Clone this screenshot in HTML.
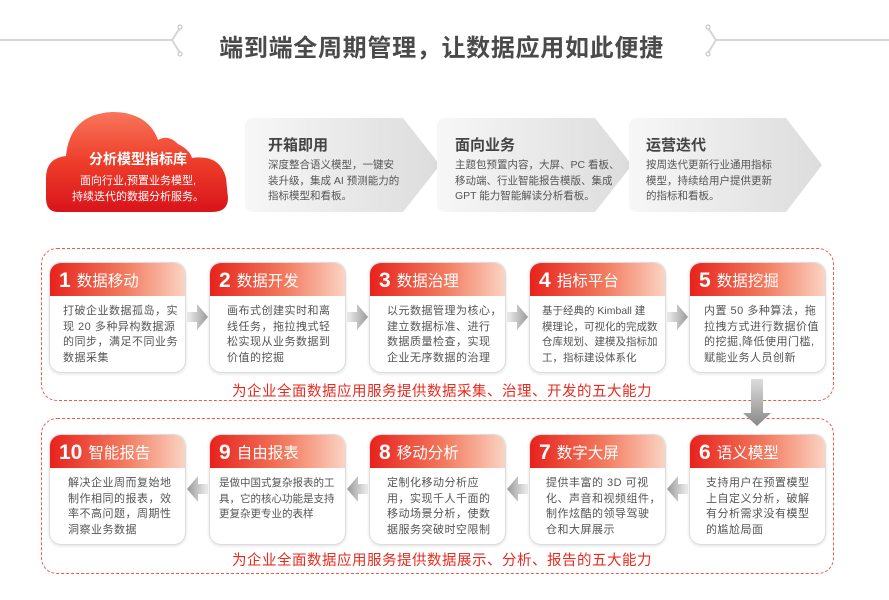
<!DOCTYPE html>
<html><head><meta charset="utf-8"><style>
*{margin:0;padding:0;box-sizing:border-box}
body{width:889px;height:600px;background:#fff;position:relative;overflow:hidden;font-family:"Liberation Sans","Noto Sans CJK SC",sans-serif}
.abs{position:absolute}
.title{left:0;width:889px;top:28px;text-align:center;font-size:24px;font-weight:bold;color:#4a4a4a;letter-spacing:.7px;padding-right:6px}
.card{position:absolute;top:118px;height:94px}
.card h3{position:absolute;left:23px;top:16px;font-size:15px;color:#444;font-weight:bold}
.card p{position:absolute;left:23px;top:40px;font-size:10.5px;line-height:15.5px;color:#555;width:134px}
.dash{position:absolute;border:1.2px dashed #ec5a4a;border-radius:16px}
.box{position:absolute;width:137px;height:111px;border:1.5px solid #ddd;border-radius:12px;background:#fff;overflow:hidden;box-shadow:0 1px 3px rgba(0,0,0,.12)}
.box .hd{height:33px;background:linear-gradient(90deg,#e8221d 0%,#f27a5e 55%,#fbd3c3 100%);color:#fff;font-size:15.5px;padding:6px 0 0 9px;white-space:nowrap}
.box .hd b{font-size:21px;margin-right:6px;vertical-align:-1px}
.box .bd{padding:8px 0 0 13px;font-size:11px;line-height:15.5px;color:#555;letter-spacing:.5px;white-space:nowrap}
.box .bd.s{font-size:10.5px;letter-spacing:0}
.cap{position:absolute;font-size:14.5px;color:#ea2a1e;letter-spacing:.5px}
</style></head><body>
<svg class="abs" style="left:0;top:0" width="889" height="70">
<g stroke="#d6d6d6" stroke-width="2" fill="none">
<line x1="0" y1="40" x2="172" y2="40"/><polyline points="172,40 180,28"/><polyline points="172,40 180,53"/>
<line x1="716" y1="40" x2="889" y2="40"/><polyline points="716,40 708,28"/><polyline points="716,40 708,53"/>
</g>
<g fill="#fff" stroke="#bbb" stroke-width="1"><circle cx="180" cy="27" r="2"/><circle cx="180" cy="54" r="2"/><circle cx="708" cy="27" r="2"/><circle cx="708" cy="54" r="2"/></g>
</svg>
<div class="abs title">端到端全周期管理，让数据应用如此便捷</div>

<svg class="abs" style="left:40px;top:100px" width="200" height="120">
<defs><linearGradient id="cg" x1="0" y1="0" x2="0" y2="1"><stop offset="0" stop-color="#f8765a"/><stop offset="0.5" stop-color="#ee3d2a"/><stop offset="1" stop-color="#d8141a"/></linearGradient></defs>
<path d="M18,112 Q6,112 6,98 L6,78 Q6,58 26,56 Q30,14 72,12 Q108,12 118,40 Q128,34 138,44 Q150,50 152,58 Q180,54 186,78 L188,98 Q188,112 172,112 Z" fill="url(#cg)"/>
<text x="98" y="64" text-anchor="middle" font-size="14" font-weight="bold" fill="#fff" font-family="Liberation Sans,Noto Sans CJK SC,sans-serif">分析模型指标库</text>
<text x="98" y="84" text-anchor="middle" font-size="11" fill="#fff" font-family="Liberation Sans,Noto Sans CJK SC,sans-serif">面向行业,预置业务模型,</text>
<text x="98" y="100" text-anchor="middle" font-size="11" fill="#fff" font-family="Liberation Sans,Noto Sans CJK SC,sans-serif">持续迭代的数据分析服务。</text>
</svg>

<svg class="abs" style="left:0;top:0" width="889" height="230">
<defs><linearGradient id="gg" x1="0" y1="0" x2="1" y2="0"><stop offset="0" stop-color="#f7f7f7"/><stop offset="1" stop-color="#dcdcdc"/></linearGradient></defs>
<path d="M254,118 L403,118 L440,165 L403,212 L254,212 Q245,212 245,203 L245,127 Q245,118 254,118Z" fill="url(#gg)"/>
<path d="M446,118 L595,118 L632,165 L595,212 L446,212 Q437,212 437,203 L437,127 Q437,118 446,118Z" fill="url(#gg)"/>
<path d="M638,118 L786,118 L822,165 L786,212 L638,212 Q629,212 629,203 L629,127 Q629,118 638,118Z" fill="url(#gg)"/>
</svg>
<div class="card" style="left:245px;width:195px"><h3>开箱即用</h3><p>深度整合语义模型，一键安装升级，集成 AI 预测能力的指标模型和看板。</p></div>
<div class="card" style="left:432px;width:195px"><h3>面向业务</h3><p style="width:168px">主题包预置内容，大屏、PC 看板、移动端、行业智能报告模版、集成 GPT 能力智能解读分析看板。</p></div>
<div class="card" style="left:623px;width:195px"><h3>运营迭代</h3><p style="width:134px">按周迭代更新行业通用指标模型，持续给用户提供更新的指标和看板。</p></div>

<div class="dash" style="left:41px;top:248px;width:793px;height:153px"></div>
<div class="dash" style="left:41px;top:418px;width:793px;height:156px"></div>

<svg class="abs" style="left:0;top:0" width="889" height="600">
<defs>
<linearGradient id="ar" x1="0" y1="0" x2="1" y2="0"><stop offset="0" stop-color="#eee"/><stop offset="1" stop-color="#999"/></linearGradient>
<linearGradient id="al" x1="1" y1="0" x2="0" y2="0"><stop offset="0" stop-color="#eee"/><stop offset="1" stop-color="#999"/></linearGradient>
<linearGradient id="ad" x1="0" y1="0" x2="0" y2="1"><stop offset="0" stop-color="#ddd"/><stop offset="1" stop-color="#888"/></linearGradient>
</defs>
<g fill="url(#ar)">
<path d="M187,312 h10 v-8 l11,13 l-11,13 v-8 h-10z"/>
<path d="M347,312 h10 v-8 l11,13 l-11,13 v-8 h-10z"/>
<path d="M507,312 h10 v-8 l11,13 l-11,13 v-8 h-10z"/>
<path d="M667,312 h10 v-8 l11,13 l-11,13 v-8 h-10z"/>
</g>
<g fill="url(#al)">
<path d="M208,484 h-10 v-8 l-11,13 l11,13 v-8 h10z"/>
<path d="M368,484 h-10 v-8 l-11,13 l11,13 v-8 h10z"/>
<path d="M528,484 h-10 v-8 l-11,13 l11,13 v-8 h10z"/>
<path d="M688,484 h-10 v-8 l-11,13 l11,13 v-8 h10z"/>
</g>
<path d="M751,379 h12 v34 h8 l-14,13 l-14,-13 h8z" fill="url(#ad)"/>
</svg>

<div class="box" style="left:49px;top:262px"><div class="hd"><b>1</b>数据移动</div><div class="bd">打破企业数据孤岛，实<br>现 20 多种异构数据源<br>的同步，满足不同业务<br>数据采集</div></div>
<div class="box" style="left:209px;top:262px"><div class="hd"><b>2</b>数据开发</div><div class="bd" style="padding-left:17px">画布式创建实时和离<br>线任务，拖拉拽式轻<br>松实现从业务数据到<br>价值的挖掘</div></div>
<div class="box" style="left:369px;top:262px"><div class="hd"><b>3</b>数据治理</div><div class="bd" style="padding-left:17px">以元数据管理为核心，<br>建立数据标准、进行<br>数据质量检查，实现<br>企业无序数据的治理</div></div>
<div class="box" style="left:529px;top:262px"><div class="hd"><b>4</b>指标平台</div><div class="bd s" style="padding-left:12px">基于经典的 Kimball 建<br>模理论，可视化的完成数<br>仓库规划、建模及指标加<br>工，指标建设体系化</div></div>
<div class="box" style="left:689px;top:262px"><div class="hd"><b>5</b>数据挖掘</div><div class="bd" style="padding-left:14px">内置 50 多种算法，拖<br>拉拽方式进行数据价值<br>的挖掘,降低使用门槛,<br>赋能业务人员创新</div></div>
<div class="cap" style="left:232px;top:380px">为企业全面数据应用服务提供数据采集、治理、开发的五大能力</div>

<div class="box" style="left:49px;top:434px"><div class="hd"><b>10</b>智能报告</div><div class="bd" style="padding-left:18px">解决企业周而复始地<br>制作相同的报表，效<br>率不高问题，周期性<br>洞察业务数据</div></div>
<div class="box" style="left:209px;top:434px"><div class="hd"><b>9</b>自由报表</div><div class="bd s" style="padding-left:9px">是做中国式复杂报表的工<br>具，它的核心功能是支持<br>更复杂更专业的表样</div></div>
<div class="box" style="left:369px;top:434px"><div class="hd"><b>8</b>移动分析</div><div class="bd" style="padding-left:17px">定制化移动分析应<br>用，实现千人千面的<br>移动场景分析，使数<br>据服务突破时空限制</div></div>
<div class="box" style="left:529px;top:434px"><div class="hd"><b>7</b>数字大屏</div><div class="bd" style="padding-left:16px">提供丰富的 3D 可视<br>化、声音和视频组件，<br>制作炫酷的领导驾驶<br>仓和大屏展示</div></div>
<div class="box" style="left:689px;top:434px"><div class="hd"><b>6</b>语义模型</div><div class="bd" style="padding-left:16px">支持用户在预置模型<br>上自定义分析，破解<br>有分析需求没有模型<br>的尴尬局面</div></div>
<div class="cap" style="left:232px;top:549px">为企业全面数据应用服务提供数据展示、分析、报告的五大能力</div>
</body></html>
